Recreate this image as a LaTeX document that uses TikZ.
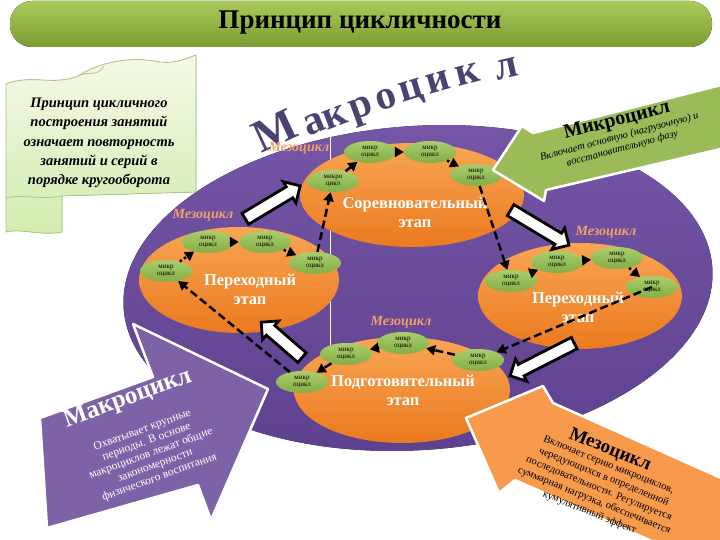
\documentclass[tikz,border=0pt]{standalone}
\usepackage{fontspec}
\setmainfont{Liberation Serif}
\usetikzlibrary{arrows.meta, positioning, shapes.geometric, shapes.arrows}

\definecolor{titleTop}{HTML}{AACA5A}
\definecolor{titleBot}{HTML}{7C9C33}
\definecolor{scrollTop}{HTML}{F4FAE8}
\definecolor{scrollBot}{HTML}{D2EBAE}
\definecolor{scrollEdge}{HTML}{A9C983}
\definecolor{macroTop}{HTML}{7455A6}
\definecolor{macroBot}{HTML}{5E418E}
\definecolor{stageTop}{HTML}{F8A553}
\definecolor{stageBot}{HTML}{EB7A1F}
\definecolor{microTop}{HTML}{A9CD6C}
\definecolor{microBot}{HTML}{84AE45}
\definecolor{mesoLabel}{HTML}{F2A06C}
\definecolor{arcInk}{HTML}{4B4272}
\definecolor{microArrow}{HTML}{9BBB59}
\definecolor{macroArrow}{HTML}{7E62A8}
\definecolor{mesoArrow}{HTML}{F79A4C}

\tikzset{
  stage/.style={ellipse, top color=stageTop, bottom color=stageBot, inner sep=0pt},
  stagetext/.style={text=white, font=\fontsize{16.5}{19}\selectfont\bfseries, align=center},
  micro/.style={ellipse, top color=microTop, bottom color=microBot, minimum width=52pt,
    minimum height=22pt, inner sep=0pt, font=\fontsize{7}{7.5}\selectfont, align=center},
  mesolabel/.style={text=mesoLabel, font=\fontsize{14}{14}\selectfont\bfseries\itshape},
  flow/.style={-{Triangle[length=9pt,width=10pt]}, line width=2.5pt, dash pattern=on 8pt off 4pt},
  flowdot/.style={flow, dash pattern=on 2.5pt off 2.5pt},
  stagearrow/.style={single arrow, draw=black, line width=2.8pt, fill=white, inner sep=5pt,
    single arrow head extend=6pt, minimum height=#1},
  arcletter/.style={text=arcInk, font=\fontsize{#1}{#1}\selectfont\bfseries, anchor=base, inner sep=0pt},
  bigarrow/.style={draw=white, line width=2.5pt, line join=round},
}

\begin{document}
\begin{tikzpicture}[x=1pt, y=-1pt]
  \useasboundingbox (0,0) rectangle (720,540);
  \fill[white] (0,0) rectangle (720,540);

  % Macrocycle field
  \fill[top color=macroTop, bottom color=macroBot, rotate around={4:(418,288)}]
    (418,288) ellipse [x radius=295, y radius=162];
  \draw[white, line width=0.8pt] (330,127) -- (330,350);

  % Stages
  \node[stage, minimum width=224pt, minimum height=104pt] (comp) at (412,195) {};
  \node[stage, minimum width=200pt, minimum height=106pt] (transL) at (239,280) {};
  \node[stage, minimum width=204pt, minimum height=106pt] (transR) at (580,296) {};
  \node[stage, minimum width=216pt, minimum height=106pt] (prep) at (402,390) {};

  \node[stagetext] (compT) at (415,212) {Соревновательный\\этап};
  \node[stagetext] (transLT) at (250,289) {Переходный\\этап};
  \node[stagetext] (transRT) at (578,307) {Переходный\\этап};
  \node[stagetext] (prepT) at (403,390) {Подготовительный\\этап};

  % Arc lettering
  \foreach \ch/\x/\y/\r/\s [count=\i] in {М/281/144/25/46, а/318/133/22/41, к/339/126/21/41,
      р/364/117/20/41, о/389/108/18/41, ц/414/99/17/41, и/441/91/16/41, к/470/84/14/41, л/509/78/13/41}
    \node[arcletter=\s, rotate=\r] (arc\i) at (\x,\y) {\ch};

  \node[mesolabel] (mesoA) at (299,148) {Мезоцикл};
  \node[mesolabel] (mesoB) at (203,215) {Мезоцикл};
  \node[mesolabel] (mesoC) at (606,232) {Мезоцикл};
  \node[mesolabel] (mesoD) at (401,322) {Мезоцикл};

  % Microcycles
  \node[micro] (a1) at (333,181) {микро\\цикл};
  \node[micro] (a2) at (370,152) {микр\\оцикл};
  \node[micro] (a3) at (430,152) {микр\\оцикл};
  \node[micro] (a4) at (476,175) {микр\\оцикл};
  \node[micro] (b1) at (166,271) {микр\\оцикл};
  \node[micro] (b2) at (208,242) {микр\\оцикл};
  \node[micro] (b3) at (265,242) {микр\\оцикл};
  \node[micro] (b4) at (315,263) {микр\\оцикл};
  \node[micro] (c1) at (511,281) {микр\\оцикл};
  \node[micro] (c2) at (557,262) {микр\\оцикл};
  \node[micro] (c3) at (617,258) {микр\\оцикл};
  \node[micro] (c4) at (652,287) {микр\\оцикл};
  \node[micro] (d1) at (302,382) {микр\\оцикл};
  \node[micro] (d2) at (346,354) {микр\\оцикл};
  \node[micro] (d3) at (403,343) {микр\\оцикл};
  \node[micro] (d4) at (478,360) {микр\\оцикл};

  % Cycle of microcycles
  \draw[flow] (b4) -- (a1);
  \draw[flow] (a1) -- (a2);
  \draw[flow] (a2) -- (a3);
  \draw[flowdot] (a3) -- (a4);
  \draw[flow] (a4) -- (c1);
  \draw[flowdot] (c1) -- (c2);
  \draw[flowdot] (c2) -- (c3);
  \draw[flowdot] (c3) -- (c4);
  \draw[flow] (c4.center) -- (d4);
  \draw[flow] (d4) -- (d3);
  \draw[flow] (d3) -- (d2);
  \draw[flow] (d2) -- (d1);
  \draw[flow] (d1) -- (b1);
  \draw[flowdot] (b1) -- (b2);
  \draw[flowdot] (b2) -- (b3);
  \draw[flowdot] (b3) -- (b4);

  % Stage to stage
  \node[stagearrow=64pt, rotate=31] (lift1) at (270,204) {};
  \node[stagearrow=68pt, rotate=-31] (lift2) at (537,226) {};
  \node[stagearrow=72pt, rotate=207] (lift3) at (545,358) {};
  \node[stagearrow=54pt, rotate=139] (lift4) at (284,342) {};

  % Microcycle arrow
  \filldraw[bigarrow, fill=microArrow] (493,170) -- (522,126) -- (533,133) -- (725,84)
    -- (725,148) -- (546,190) -- (544,201) -- cycle;
  \node[font=\fontsize{20}{20}\selectfont\bfseries, rotate=14] (microH) at (617,121) {Микроцикл};
  \node[font=\fontsize{10.5}{12}\selectfont\itshape, rotate=15, align=center] (microB) at (621,143)
    {Включает основную (нагрузочную) и\\восстановительную фазу};

  % Macrocycle arrow
  \filldraw[bigarrow, fill=macroArrow] (47,528) -- (40,418) -- (153,377) -- (133,324)
    -- (268,389) -- (211,520) -- (198,485) -- cycle;
  \node[text=white, font=\fontsize{25}{25}\selectfont\bfseries, rotate=20] (macroH) at (128,399) {Макроцикл};
  \node[text=white, font=\fontsize{11.5}{12.5}\selectfont, rotate=20, align=center] (macroB) at (151,454)
    {Охватывает крупные\\периоды. В основе\\макроциклов лежат общие\\закономерности\\физического воспитания};

  % Mesocycle arrow
  \filldraw[bigarrow, fill=mesoArrow] (466,418) -- (543,386) -- (553,403) -- (730,482)
    -- (730,576) -- (515,480) -- (499,493) -- cycle;
  \node[font=\fontsize{19}{19}\selectfont\bfseries, rotate=-22] (mesoH) at (610,450) {Мезоцикл};
  \node[font=\fontsize{10.5}{12.8}\selectfont, rotate=-22, align=center] (mesoB) at (599,489)
    {Включает серию микроциклов,\\чередующихся в определенной\\последовательности. Регулируется\\суммарная нагрузка, обеспечивается\\кумулятивный эффект};

  % Scroll
  \filldraw[draw=scrollEdge, line width=0.8pt, top color=scrollTop, bottom color=scrollBot]
    (6,84) .. controls (30,74) and (55,86) .. (78,76) .. controls (100,62) and (130,56) .. (160,62)
    .. controls (175,64) and (188,58) .. (196,55) -- (196,192) -- (62,196) -- (62,232)
    .. controls (40,236) and (20,228) .. (6,232) -- cycle;
  \draw[scrollEdge, line width=0.8pt] (62,196) .. controls (40,200) and (20,194) .. (6,198);
  \draw[scrollEdge, line width=0.8pt] (78,76) .. controls (90,70) and (96,78) .. (104,66);
  \node[font=\fontsize{14.5}{19.3}\selectfont\bfseries\itshape, align=center] (principle) at (99,143)
    {Принцип цикличного\\построения занятий\\означает повторность\\занятий и серий в\\порядке кругооборота};

  % Title bar
  \fill[top color=titleTop, bottom color=titleBot, rounded corners=22pt] (10,1) rectangle (712,47);
  \node[font=\fontsize{27}{27}\selectfont\bfseries] (title) at (360,23) {Принцип цикличности};
\end{tikzpicture}
\end{document}
